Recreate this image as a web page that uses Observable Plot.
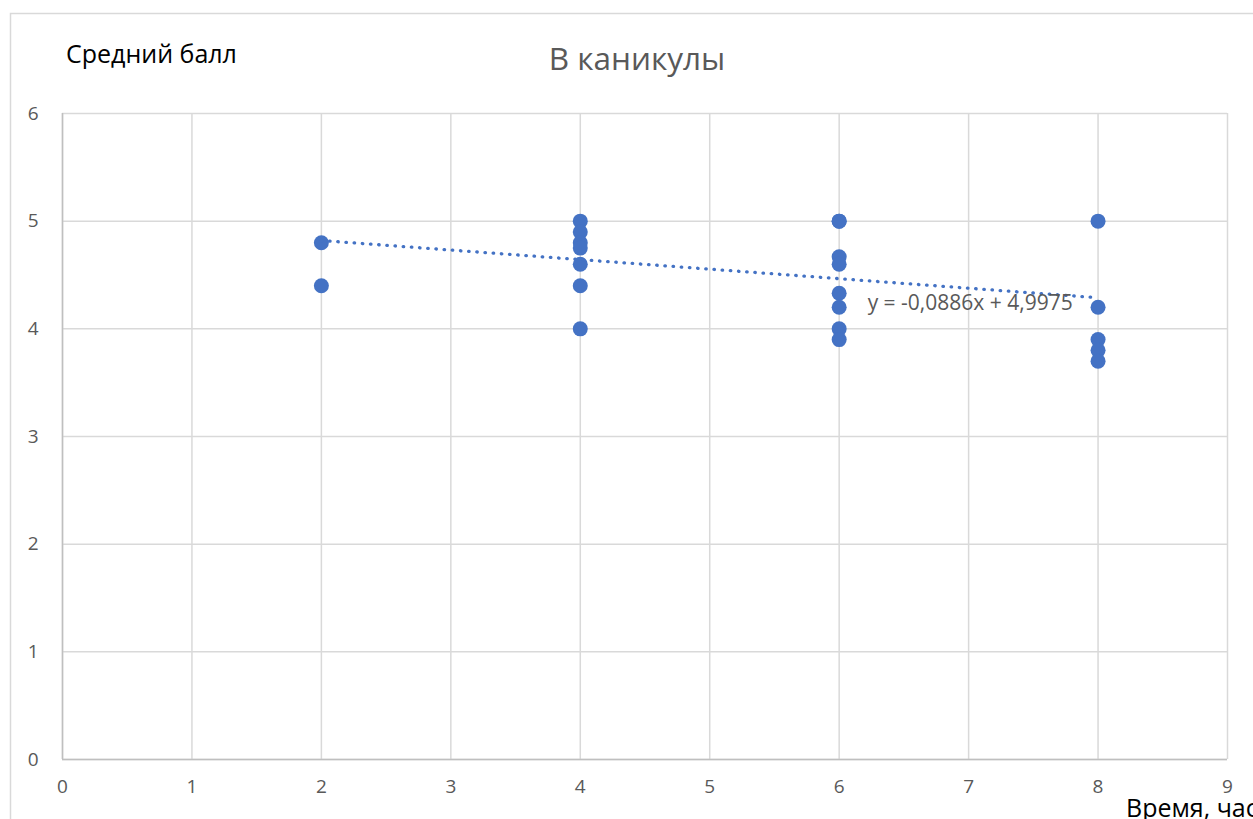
<!DOCTYPE html>
<html><head><meta charset="utf-8">
<script src="https://cdn.jsdelivr.net/npm/d3@7"></script>
<script src="https://cdn.jsdelivr.net/npm/@observablehq/plot@0.6"></script>
<style>
body{margin:0;background:#fff;overflow:hidden}
#chart{position:relative;width:1253px;height:819px;overflow:hidden}
</style>
</head><body><div id="chart"></div>
<script>
// data
const hours  = [2, 2, 4, 4, 4, 4, 4, 4, 4, 6, 6, 6, 6, 6, 6, 6, 6, 8, 8, 8, 8, 8];
const scores = [4.8, 4.4, 5.0, 4.9, 4.8, 4.75, 4.6, 4.4, 4.0, 5.0, 5.0, 4.67, 4.6, 4.33, 4.2, 4.0, 3.9, 5.0, 4.2, 3.9, 3.8, 3.7];
const xTicks = [0, 1, 2, 3, 4, 5, 6, 7, 8, 9];
const yTicks = [0, 1, 2, 3, 4, 5, 6];
const trendSlope = -0.0886;
const trendIntercept = 4.9975;
const trendRange = [2, 8];
const trendLabel = "y = -0,0886x + 4,9975";
const trendLabelPos = {x: 6.22, y: 4.24};
const titleText = "В каникулы";
const yLabelText = "Средний балл";
const xLabelText = "Время, час";

const points = hours.map((h, i) => ({h, s: scores[i]}));
const trend = trendRange.map(x => ({x, y: trendSlope * x + trendIntercept}));

const FONT = "'Open Sans', sans-serif";
const chart = Plot.plot({
  width: 1253, height: 819,
  marginLeft: 62, marginRight: 26, marginTop: 113, marginBottom: 60,
  style: {fontFamily: FONT, fontSize: "19px", color: "#595959", background: "white"},
  x: {domain: [0, 9], ticks: xTicks, tickSize: 0, tickPadding: 20, label: null},
  y: {domain: [0, 6], ticks: yTicks, tickSize: 0, tickPadding: 24, label: null},
  marks: [
    Plot.gridX(xTicks, {stroke: "#d9d9d9", strokeOpacity: 1, strokeWidth: 1.5}),
    Plot.gridY(yTicks, {stroke: "#d9d9d9", strokeOpacity: 1, strokeWidth: 1.5}),
    Plot.ruleX([0], {stroke: "#bfbfbf", strokeWidth: 1.5}),
    Plot.ruleY([0], {stroke: "#bfbfbf", strokeWidth: 1.5}),
    Plot.axisX({ticks: xTicks, tickSize: 0, tickPadding: 20, fontSize: 19, tickFormat: d3.format("d")}),
    Plot.axisY({ticks: yTicks, tickSize: 0, tickPadding: 24, fontSize: 19, tickFormat: d3.format("d")}),
    Plot.dot(points, {x: "h", y: "s", r: 7.5, fill: "#4472C4", stroke: "none"}),
    Plot.line(trend, {x: "x", y: "y", stroke: "#4472C4", strokeWidth: 3.3,
      strokeDasharray: "0.5,7.7", strokeLinecap: "round"}),
    Plot.text([trendLabel], {x: () => trendLabelPos.x, y: () => trendLabelPos.y, text: d => d,
      textAnchor: "start", fontSize: 21, fill: "#595959"})
  ]
});

const svg = d3.select(chart);
svg.insert("rect", ":first-child")
  .attr("x", 10.5).attr("y", 13.5).attr("width", 1400).attr("height", 1000)
  .attr("fill", "none").attr("stroke", "#d9d9d9").attr("stroke-width", 1.5);
svg.append("text").text(titleText)
  .attr("x", 637).attr("y", 70).attr("text-anchor", "middle")
  .attr("font-family", FONT).attr("font-size", 31.5).attr("fill", "#595959");
svg.append("text").text(yLabelText)
  .attr("x", 66).attr("y", 63).attr("text-anchor", "start")
  .attr("font-family", FONT).attr("font-size", 25).attr("fill", "#000");
svg.append("text").text(xLabelText)
  .attr("x", 1126).attr("y", 817).attr("text-anchor", "start")
  .attr("font-family", FONT).attr("font-size", 25).attr("fill", "#000");

document.getElementById("chart").appendChild(chart);
</script>
</body></html>
